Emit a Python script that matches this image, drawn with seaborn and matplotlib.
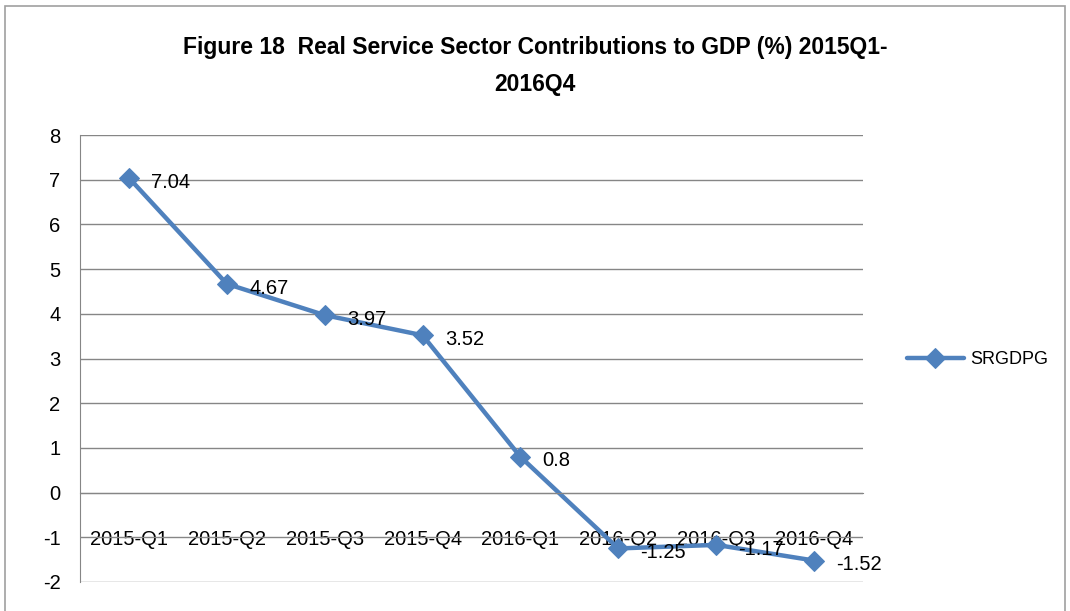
import numpy as np
import pandas as pd
import matplotlib
matplotlib.use('Agg')
import matplotlib.pyplot as plt
import seaborn as sns

quarters = ['2015-Q1', '2015-Q2', '2015-Q3', '2015-Q4',
            '2016-Q1', '2016-Q2', '2016-Q3', '2016-Q4']
srgdpg = [7.04, 4.67, 3.97, 3.52, 0.8, -1.25, -1.17, -1.52]
value_labels = ['7.04', '4.67', '3.97', '3.52', '0.8', '-1.25', '-1.17', '-1.52']

sns.set_style('white')
plt.rcParams['font.family'] = ['Liberation Sans', 'DejaVu Sans']
plt.rcParams['axes.unicode_minus'] = False

df = pd.DataFrame({'quarter': quarters, 'SRGDPG': srgdpg})
df['pos'] = np.arange(len(df))

blue = '#4F81BD'
grey = '#868686'

fig = plt.figure(figsize=(10.7, 6.11), dpi=100)
ax = fig.add_axes([0.0748, 0.0475, 0.7317, 0.7315])

sns.lineplot(data=df, x='pos', y='SRGDPG', ax=ax, color=blue, linewidth=3.2,
             marker='D', markersize=10, markeredgecolor=blue, label='SRGDPG')

# data labels to the right of each point
for i, (v, t) in enumerate(zip(srgdpg, value_labels)):
    ax.annotate(t, (i, v), xytext=(16, -3), textcoords='offset points',
                ha='left', va='center', fontsize=14.5, color='black')

ax.set_xlim(-0.5, len(quarters) - 0.5)
ax.set_ylim(-2, 8)
ax.set_yticks(range(-2, 9))
ax.set_xticks(df['pos'])
ax.set_xticklabels(quarters)
ax.set_xticks(np.arange(-0.5, len(quarters)), minor=True)
ax.tick_params(axis='x', which='major', length=0, pad=27, labelsize=14.5, labelcolor='black')
ax.tick_params(axis='x', which='minor', length=8, width=1, color=grey, direction='out')
ax.tick_params(axis='y', length=8, width=1, color=grey, direction='out', labelsize=14.5,
               labelcolor='black', pad=6)

ax.grid(axis='y', color=grey, linewidth=1)
ax.grid(axis='x', visible=False)
ax.set_axisbelow(True)
for s in ['top', 'right']:
    ax.spines[s].set_visible(False)
ax.spines['bottom'].set_position(('data', 0))
ax.spines['bottom'].set_color(grey)
ax.spines['left'].set_color(grey)
ax.set_xlabel('')
ax.set_ylabel('')

ax.legend(loc='center left', bbox_to_anchor=(1.035, 0.497), frameon=False,
          fontsize=13, handlelength=3.2, handletextpad=0.3, labelcolor='black')

fig.text(0.5, 0.892, 'Figure 18  Real Service Sector Contributions to GDP (%) 2015Q1-\n2016Q4',
         ha='center', va='center', fontsize=16.5, fontweight='bold', linespacing=1.75,
         color='black')

border = plt.Rectangle((0.005, -0.01), 0.99, 1.0, transform=fig.transFigure,
                       fill=False, edgecolor='#A0A0A0', linewidth=1.2)
fig.add_artist(border)

fig.savefig('out.png', dpi=100)
